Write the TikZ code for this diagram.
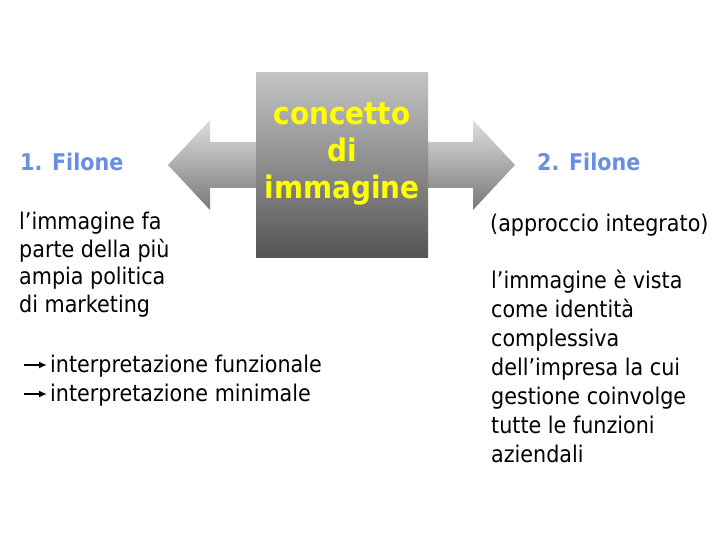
\documentclass[tikz,border=0pt]{standalone}
\usepackage{fontspec}
\setmainfont{DejaVu Sans Condensed}
\usepackage{tikz}
\usetikzlibrary{positioning,arrows.meta}
\definecolor{filoneblue}{RGB}{107,142,227}
\definecolor{conceptyellow}{RGB}{255,255,0}
\definecolor{arrowtop}{RGB}{222,222,222}
\definecolor{arrowbottom}{RGB}{120,120,120}
\definecolor{boxtop}{RGB}{196,196,196}
\definecolor{boxbottom}{RGB}{85,85,85}

\tikzset{
    bodytext/.style={align=left, inner sep=0pt, anchor=base west,
        font=\fontsize{23}{29}\selectfont},
    filonetitle/.style={inner sep=0pt, anchor=base west, text=filoneblue,
        font=\fontsize{23}{29}\selectfont\bfseries},
    conceptbox/.style={minimum width=172pt, minimum height=184pt, inner sep=0pt,
        top color=boxtop, bottom color=boxbottom},
    concepttext/.style={align=center, text=conceptyellow, inner sep=0pt,
        font=\fontsize{31}{37}\selectfont\bfseries},
    smallarrow/.style={-{Latex[length=8pt,width=7pt]}, line width=2pt}
}

\begin{document}
\begin{tikzpicture}[x=1pt, y=-1pt]
    \useasboundingbox (0,0) rectangle (720,540);

    % double arrow
    \shade[top color=arrowtop, bottom color=arrowbottom]
        (168,165) -- (210,120) -- (210,142) -- (473,142) -- (473,120)
        -- (515,165) -- (473,210) -- (473,188) -- (210,188) -- (210,210) -- cycle;

    % central box
    \node[conceptbox] (concetto) at (342,165) {};
    \node[concepttext] (conceptlabel) at ([yshift=11pt]concetto.center)
        {concetto\\di\\immagine};

    % left side (base = last line)
    \node[filonetitle] (filone1) at (20,171) {1. Filone};
    \node[bodytext, font=\fontsize{23}{27.5}\selectfont] (leftbody) at (19,312)
        {l’immagine fa\\parte della più\\ampia politica\\di marketing};

    % bottom lines
    \node[bodytext, inner sep=3pt] (funz) at (47,372) {interpretazione funzionale};
    \node[bodytext, inner sep=3pt] (minim) at (47,401) {interpretazione minimale};
    \coordinate (funzstart) at (24,365);
    \coordinate (minimstart) at (24,394);
    \draw[smallarrow] (funzstart) -- (funzstart -| funz.west);
    \draw[smallarrow] (minimstart) -- (minimstart -| minim.west);

    % right side
    \node[filonetitle] (filone2) at (537,171) {2. Filone};
    \node[bodytext] (approccio) at (490,232) {(approccio integrato)};
    \node[bodytext] (rightbody) at (491,462)
        {l’immagine è vista\\come identità\\complessiva\\dell’impresa la cui\\gestione coinvolge\\tutte le funzioni\\aziendali};
\end{tikzpicture}
\end{document}
